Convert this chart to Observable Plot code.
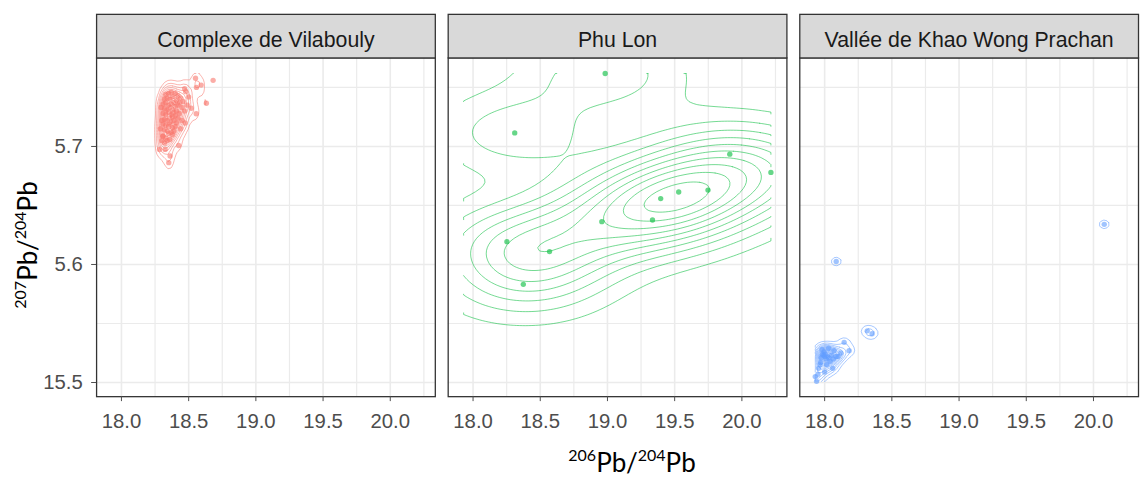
<!DOCTYPE html>
<html><head><meta charset="utf-8">
<script src="https://cdn.jsdelivr.net/npm/d3@7"></script>
<script src="https://cdn.jsdelivr.net/npm/@observablehq/plot@0.6"></script>
<style>
html,body{margin:0;padding:0;background:#fff;overflow:hidden}
#chart{width:1141px;height:478px;overflow:hidden;position:relative}
.atitle{position:absolute;font-family:Lato,'Open Sans',sans-serif;font-size:26px;line-height:26px;white-space:nowrap;color:#000}
.atitle sup{font-size:16px;line-height:0;vertical-align:baseline;position:relative;top:-11px}
</style></head><body><div id="chart"></div>
<script>
const sites = ["Complexe de Vilabouly", "Phu Lon", "Vallée de Khao Wong Prachan"];
const siteColors = ["#F8766D", "#00BA38", "#619CFF"];

const vilabouly = [
  [18.682,15.756],[18.551,15.7578],[18.593,15.752],[18.558,15.750],[18.47,15.749],[18.478,15.7464],
  [18.632,15.7366],[18.519,15.7324],[18.556,15.7277],[18.473,15.7199],[18.426,15.7008],[18.283,15.6975],
  [18.325,15.6975],[18.362,15.6919],[18.352,15.6863],[18.38,15.710],[18.307,15.7086],
  [18.33,15.744],[18.35,15.745],[18.37,15.746],[18.40,15.745],[18.42,15.743],[18.44,15.741],
  [18.32,15.740],[18.34,15.741],[18.36,15.740],[18.38,15.742],[18.41,15.739],[18.43,15.737],
  [18.31,15.736],[18.33,15.737],[18.35,15.735],[18.37,15.736],[18.39,15.737],[18.40,15.734],[18.42,15.735],[18.45,15.733],
  [18.32,15.732],[18.34,15.731],[18.36,15.733],[18.38,15.731],[18.39,15.729],[18.41,15.730],[18.43,15.728],
  [18.31,15.728],[18.33,15.727],[18.35,15.729],[18.37,15.727],[18.38,15.725],[18.40,15.726],[18.42,15.724],
  [18.32,15.723],[18.34,15.722],[18.36,15.724],[18.37,15.721],[18.39,15.722],[18.41,15.720],
  [18.31,15.719],[18.33,15.718],[18.35,15.717],[18.36,15.719],[18.38,15.716],[18.40,15.717],
  [18.32,15.714],[18.34,15.713],[18.35,15.711],[18.37,15.712],[18.39,15.713],
  [18.31,15.709],[18.33,15.707],[18.34,15.705],[18.36,15.706],[18.32,15.703],
  [18.295,15.733],[18.30,15.722],[18.29,15.715],[18.30,15.705],[18.46,15.738],[18.47,15.730],
  [18.45,15.722],[18.44,15.715],[18.50,15.742],[18.49,15.735]
];
const phuLon = [
  [18.983,15.7618],[18.31,15.7115],[19.91,15.6935],[20.216,15.678],[19.748,15.663],[19.53,15.6614],
  [19.396,15.6558],[19.335,15.6377],[18.958,15.6363],[18.252,15.6193],[18.569,15.6109],[18.374,15.5832]
];
const khaoWong = [
  [17.93,15.505],[17.94,15.501],[17.95,15.507],[17.955,15.512],[17.965,15.515],[17.97,15.517],
  [17.975,15.521],[17.985,15.524],[17.99,15.523],[17.995,15.526],[18.0,15.522],[18.005,15.524],
  [18.01,15.520],[18.015,15.515],[18.02,15.522],[18.03,15.521],[18.04,15.518],[18.05,15.523],
  [18.065,15.520],[18.085,15.522],[18.10,15.522],[18.12,15.525],[18.07,15.527],[18.03,15.529],
  [17.98,15.528],[18.06,15.512],[18.0,15.509],
  [18.145,15.534],[18.182,15.527],[18.317,15.5438],[18.353,15.5413],
  [18.086,15.6025],[20.08,15.634]
];

const xTicks = [18, 18.5, 19, 19.5, 20];
const xMinor = [18.25, 18.75, 19.25, 19.75, 20.25];
const yTicks = [15.5, 15.6, 15.7];
const yTickLabels = ["15.5", "5.6", "5.7"];
const yMinor = [15.55, 15.65, 15.75];
const xTitleParts = ["206", "Pb/", "204", "Pb"];
const yTitleParts = ["207", "Pb/", "204", "Pb"];

const groups = [vilabouly, phuLon, khaoWong];
const rows = groups.flatMap((g, i) => g.map(([x, y]) => ({site: sites[i], x, y})));

// 2D kernel density (as MASS::kde2d with bandwidth.nrd, 100x100 grid over the data range) -> contour lines
const N = 100;
const [gx0, gx1] = d3.extent(rows, d => d.x);
const [gy0, gy1] = d3.extent(rows, d => d.y);
const gx = d3.range(N).map(i => gx0 + (gx1 - gx0) * i / (N - 1));
const gy = d3.range(N).map(j => gy0 + (gy1 - gy0) * j / (N - 1));
const dnorm = u => Math.exp(-0.5 * u * u) / Math.sqrt(2 * Math.PI);
function bwNrd(v) {
  const s = v.slice().sort(d3.ascending);
  const iqr = (d3.quantileSorted(s, 0.75) - d3.quantileSorted(s, 0.25)) / 1.34;
  return 4 * 1.06 * Math.min(d3.deviation(v), iqr) * Math.pow(v.length, -0.2);
}
function contourLines(pts, site) {
  const xs = pts.map(p => p[0]), ys = pts.map(p => p[1]), n = pts.length;
  const hx = bwNrd(xs) / 4, hy = bwNrd(ys) / 4;
  const values = new Float64Array(N * N);
  for (let j = 0; j < N; j++) for (let i = 0; i < N; i++) {
    let s = 0;
    for (let k = 0; k < n; k++) s += dnorm((gx[i] - xs[k]) / hx) * dnorm((gy[j] - ys[k]) / hy);
    values[j * N + i] = s / (n * hx * hy);
  }
  const breaks = d3.ticks(0, d3.max(values), 10).filter(b => b > 0);
  const contours = d3.contours().size([N, N]).thresholds(breaks)(values);
  const onEdge = p => p[0] === 0 || p[0] === N || p[1] === 0 || p[1] === N;
  const clampIdx = c => Math.min(N - 1, Math.max(0, c - 0.5));
  const out = [];
  let id = 0;
  const push = seg => {
    if (seg.length > 1) {
      id++;
      for (const p of seg) out.push({site, id: site + id,
        x: gx0 + (gx1 - gx0) * clampIdx(p[0]) / (N - 1),
        y: gy0 + (gy1 - gy0) * clampIdx(p[1]) / (N - 1)});
    }
  };
  for (const c of contours) for (const poly of c.coordinates) for (const ring of poly) {
    let cur = [];
    for (let k = 0; k < ring.length; k++) {
      const p = ring[k];
      if (k > 0 && onEdge(ring[k - 1]) && onEdge(p)) { push(cur); cur = [p]; continue; }
      cur.push(p);
    }
    push(cur);
  }
  return out;
}
const lines = groups.flatMap((g, i) => contourLines(g, sites[i]));

const plot = Plot.plot({
  width: 1152, height: 478,
  marginTop: 58, marginBottom: 78, marginLeft: 96, marginRight: 2,
  style: {fontFamily: "'Liberation Sans', Arial, sans-serif", background: "#fff"},
  x: {domain: [17.815, 20.335]},
  y: {domain: [15.488, 15.775]},
  fx: {domain: sites, axis: null, paddingInner: 0.037, paddingOuter: 0, label: null},
  color: {domain: sites, range: siteColors},
  marks: [
    Plot.gridX(xMinor, {stroke: "#ebebeb", strokeOpacity: 1, strokeWidth: 1.2}),
    Plot.gridX(xTicks, {stroke: "#ebebeb", strokeOpacity: 1, strokeWidth: 1.6}),
    Plot.gridY(yMinor, {stroke: "#ebebeb", strokeOpacity: 1, strokeWidth: 1.2}),
    Plot.gridY(yTicks, {stroke: "#ebebeb", strokeOpacity: 1, strokeWidth: 1.6}),
    Plot.line(lines, {x: "x", y: "y", z: "id", fx: "site", stroke: "site", strokeOpacity: 0.55, strokeWidth: 1}),
    Plot.dot(rows, {x: "x", y: "y", fx: "site", fill: "site", r: 2.7, fillOpacity: 0.6, stroke: "none"}),
    Plot.frame({stroke: "#333", strokeWidth: 1.3}),
    Plot.frame({fill: "#d9d9d9", stroke: "#333", strokeWidth: 1.3, insetTop: -44, insetBottom: 342}),
    Plot.text(sites, {fx: d => d, text: d => d, frameAnchor: "top", lineAnchor: "middle", dy: -17.5, fontSize: 21.5, fill: "#1a1a1a"}),
    Plot.axisX(xTicks, {tickSize: 5, tickPadding: 12, tickFormat: d => d.toFixed(1), fontSize: 20.5, color: "#4d4d4d", label: null}),
    Plot.axisY(yTicks, {tickSize: 5, tickPadding: 9, tickFormat: d => yTickLabels[yTicks.indexOf(d)], fontSize: 20.5, color: "#4d4d4d", label: null})
  ]
});
const chart = document.getElementById("chart");
chart.appendChild(plot);

function addTitle(parts, css) {
  const div = document.createElement("div");
  div.className = "atitle";
  parts.forEach((p, i) => {
    const el = document.createElement(i % 2 === 0 ? "sup" : "span");
    el.textContent = p;
    div.appendChild(el);
  });
  Object.assign(div.style, css);
  chart.appendChild(div);
}
addTitle(xTitleParts, {left: "632px", top: "449px", transform: "translateX(-50%)"});
addTitle(yTitleParts, {left: "26.5px", top: "245px", transform: "translate(-50%,-50%) rotate(-90deg)"});
</script></body></html>
